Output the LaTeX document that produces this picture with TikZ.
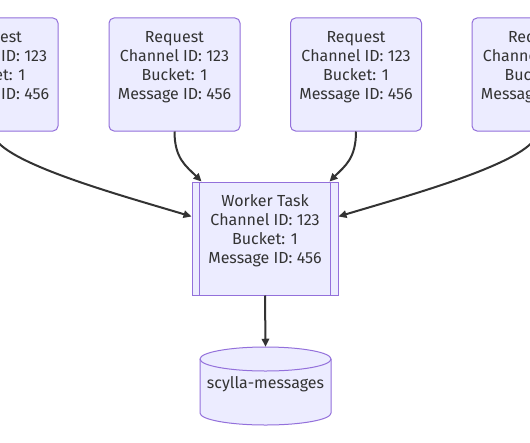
\documentclass[tikz,border=0pt]{standalone}
\usepackage{fontspec}
\setmainfont{Fira Sans}
\usetikzlibrary{arrows.meta,calc}
\definecolor{nodefill}{HTML}{ECECFF}
\definecolor{nodeline}{HTML}{9370DB}
\definecolor{ink}{HTML}{333333}
\begin{document}
\begin{tikzpicture}[x=0.75pt,y=-0.75pt,
  txt/.style={text=ink, font=\fontsize{12}{14.25}\selectfont, align=center},
  reqbox/.style={txt, draw=nodeline, fill=nodefill, line width=0.75pt,
    rounded corners=3.75pt, minimum width=98.25pt, minimum height=84.75pt, inner sep=0pt},
  workbox/.style={txt, draw=nodeline, fill=nodefill, line width=0.75pt,
    minimum width=109.5pt, minimum height=84.75pt, inner sep=0pt},
  boxline/.style={draw=nodeline, line width=0.75pt},
  flow/.style={draw=ink, line width=1.5pt, -{Triangle[length=6pt,width=5.5pt]}}
]
\useasboundingbox[fill=white] (0,0) rectangle (530,442);

% request boxes
\node[reqbox] (r1) at (-7.5,74.5) {Request\\Channel ID: 123\\Bucket: 1\\Message ID: 456\\\mbox{}};
\node[reqbox] (r2) at (174.5,74.5) {Request\\Channel ID: 123\\Bucket: 1\\Message ID: 456\\\mbox{}};
\node[reqbox] (r3) at (356,74.5) {Request\\Channel ID: 123\\Bucket: 1\\Message ID: 456\\\mbox{}};
\node[reqbox] (r4) at (537.5,74.5) {Request\\Channel ID: 123\\Bucket: 1\\Message ID: 456\\\mbox{}};

% worker task (subroutine)
\node[workbox] (w) at (265,238.5) {Worker Task\\Channel ID: 123\\Bucket: 1\\Message ID: 456\\\mbox{}};
\draw[boxline] ([xshift=6pt]w.north west) -- ([xshift=6pt]w.south west);
\draw[boxline] ([xshift=-6pt]w.north east) -- ([xshift=-6pt]w.south east);

% database cylinder
\node[minimum width=98.25pt, minimum height=58.5pt, inner sep=0pt] (db) at (265.5,386) {};
\path[fill=nodefill, draw=nodeline, line width=0.75pt]
  (200,359) -- (200,413)
  .. controls (200,419.63) and (229.32,425) .. (265.5,425)
  .. controls (301.68,425) and (331,419.63) .. (331,413)
  -- (331,359)
  .. controls (331,352.37) and (301.68,347) .. (265.5,347)
  .. controls (229.32,347) and (200,352.37) .. (200,359) -- cycle;
\draw[boxline] (200,359) .. controls (200,365.63) and (229.32,371) .. (265.5,371)
  .. controls (301.68,371) and (331,365.63) .. (331,359);
\node[txt, inner sep=0pt] (dbt) at (265.5,384) {scylla-messages};

% connectors
\draw[flow] (r1.south) .. controls ($(r1.south)+(0,29)$) and (120,195) .. ($(w.north west)+(0,35)$);
\draw[flow] (r2.south) .. controls ($(r2.south)+(0,27)$) and (186,166) .. ($(w.north west)+(10,0)$);
\draw[flow] (r3.south) .. controls ($(r3.south)+(0,27)$) and (345,166) .. ($(w.north east)+(-9,0)$);
\draw[flow] (r4.south) .. controls ($(r4.south)+(0,29)$) and (410,195) .. ($(w.north east)+(0,35)$);
\draw[flow] (w.south) -- (db.north);
\end{tikzpicture}
\end{document}
